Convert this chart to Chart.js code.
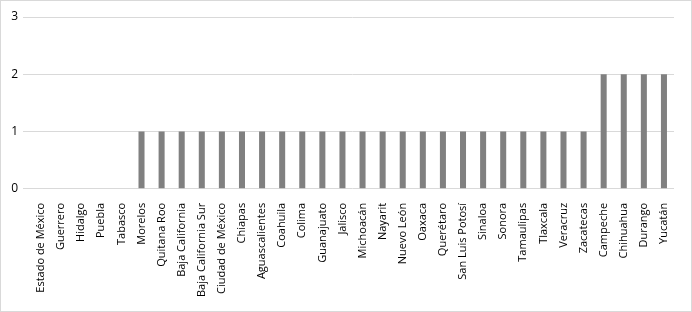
<!DOCTYPE html>
<html>
<head>
<meta charset="utf-8">
<script src="https://cdn.jsdelivr.net/npm/chart.js@4"></script>
<style>
  html, body { margin: 0; padding: 0; background: #fff; }
  #wrap { position: absolute; left: 0; top: 0; width: 690px; height: 310px; border: 1px solid #d9d9d9; }
</style>
</head>
<body>
<div id="wrap"><canvas id="chart" width="690" height="310"></canvas></div>
<script>
const states = ["Estado de México", "Guerrero", "Hidalgo", "Puebla", "Tabasco", "Morelos", "Quitana Roo",
  "Baja California", "Baja California Sur", "Ciudad de México", "Chiapas", "Aguascalientes", "Coahuila",
  "Colima", "Guanajuato", "Jalisco", "Michoacán", "Nayarit", "Nuevo León", "Oaxaca", "Querétaro",
  "San Luis Potosí", "Sinaloa", "Sonora", "Tamaulipas", "Tlaxcala", "Veracruz", "Zacatecas",
  "Campeche", "Chihuahua", "Durango", "Yucatán"];
const counts = [0, 0, 0, 0, 0, 1, 1, 1, 1, 1, 1, 1, 1, 1, 1, 1, 1, 1, 1, 1, 1, 1, 1, 1, 1, 1, 1, 1, 2, 2, 2, 2];
const yTicks = [0, 1, 2, 3];

Chart.defaults.font.family = "'Open Sans', 'Noto Sans', sans-serif";
Chart.defaults.color = "#000";

new Chart(document.getElementById("chart"), {
  type: "bar",
  data: {
    labels: states,
    datasets: [{ data: counts, backgroundColor: "#808080", barPercentage: 0.6, categoryPercentage: 0.5 }]
  },
  options: {
    responsive: false,
    animation: false,
    layout: { padding: { left: 0, right: 17, top: 16, bottom: 8 } },
    plugins: { legend: { display: false }, tooltip: { enabled: false } },
    scales: {
      x: {
        grid: { display: false },
        border: { display: false },
        afterFit: s => { s.paddingLeft = 0; s.paddingRight = 0; },
        ticks: { minRotation: 90, maxRotation: 90, autoSkip: false, padding: 6, font: { size: 11 } }
      },
      y: {
        min: 0,
        max: 3,
        afterBuildTicks: s => { s.ticks = yTicks.map(v => ({ value: v })); },
        afterFit: s => { s.width = 30; s.paddingTop = 0; },
        grid: { color: "#d9d9d9" },
        border: { display: false },
        ticks: { padding: 5, font: { size: 12 } }
      }
    }
  }
});
</script>
</body>
</html>
